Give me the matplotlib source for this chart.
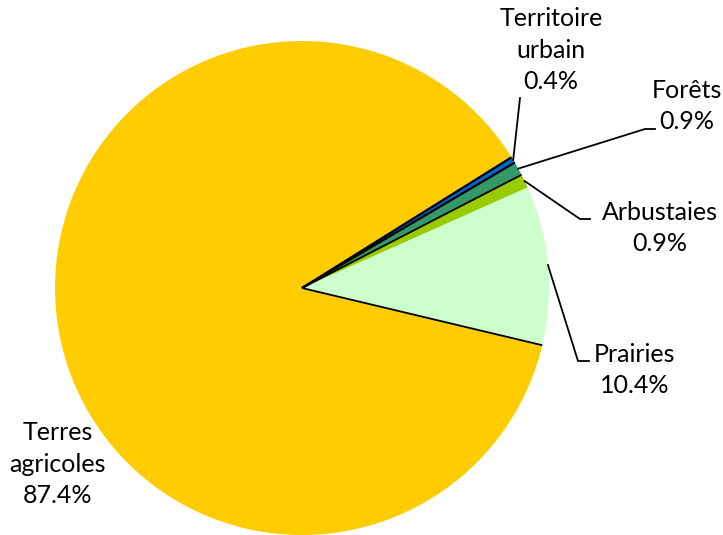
import numpy as np
import matplotlib.pyplot as plt

categories = ["Prairies", "Arbustaies", "Forêts", "Territoire\nurbain", "Terres\nagricoles"]
values = [10.4, 0.9, 0.9, 0.4, 87.4]
colors = ["#CCFFCC", "#99CC00", "#339966", "#0066CC", "#FFCC00"]

W, H = 723, 535
fig = plt.figure(figsize=(W / 100, H / 100), dpi=100)
ax = fig.add_axes([0, 0, 1, 1])

cx, cy, R = 302, H - 288, 247
wedges, _ = ax.pie(values, colors=colors, startangle=-13.4, counterclock=True,
                   center=(cx, cy), radius=R, frame=True,
                   wedgeprops=dict(linewidth=0))
ax.set_xlim(0, W)
ax.set_ylim(0, H)
ax.set_aspect("equal")
ax.axis("off")

# radial separator lines
def radial(theta, lw=1.3):
    t = np.deg2rad(theta)
    ax.plot([cx, cx + R * np.cos(t)], [cy, cy + R * np.sin(t)], color="black", lw=lw,
            solid_capstyle="butt", zorder=5)

radial(wedges[0].theta1)
radial(wedges[2].theta1)
radial(wedges[3].theta1, 1.6)
radial(wedges[3].theta2, 1.6)

fs = 18
font = "Lato"

# label positions (pixel coords) and leader elbows
label_pos = [(635, 370), (660, 228), (687, 106), (551, 50), (58, 464)]
elbows = [((578, 361), (589, 361)), ((580, 219), (590, 219)),
          ((645, 129), (655, 129)), ((520, 98), (520, 98)), None]

for i, (w, cat, v) in enumerate(zip(wedges, categories, values)):
    lx, ly = label_pos[i]
    ax.text(lx, H - ly, f"{cat}\n{v:.1f}%", ha="center", va="center", fontsize=fs,
            family=font, linespacing=1.45, color="black")
    if elbows[i] is not None:
        mid = np.deg2rad((w.theta1 + w.theta2) / 2)
        px, py = cx + R * np.cos(mid), cy + R * np.sin(mid)
        (ex, ey), (hx, hy) = elbows[i]
        ax.plot([px, ex, hx], [py, H - ey, H - hy], color="black", lw=1.3, zorder=6)

fig.savefig("out.png", dpi=100)
